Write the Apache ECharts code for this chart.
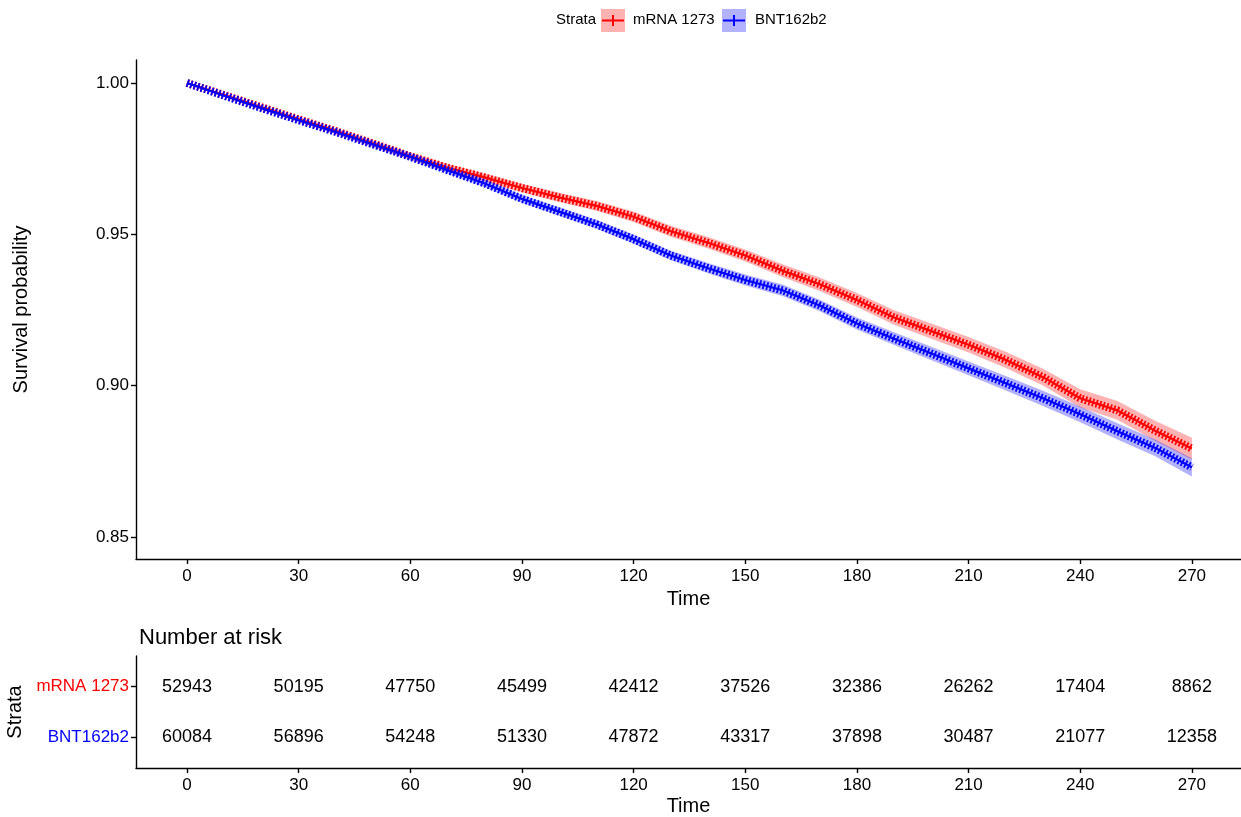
<!DOCTYPE html>
<html>
<head>
<meta charset="utf-8">
<script src="https://cdn.jsdelivr.net/npm/echarts@6/dist/echarts.min.js"></script>
<style>
html,body{margin:0;padding:0;background:#fff;}
#chart{width:1241px;height:817px;}
</style>
</head>
<body>
<div id="chart"></div>
<script>
// ---- data ----
const strata = ['mRNA 1273', 'BNT162b2'];
const times = [0,10,20,30,40,50,60,70,80,90,100,110,120,130,140,150,160,170,180,190,200,210,220,230,240,250,260,270];
const survMRNA = [1.0000,0.9960,0.9920,0.9880,0.9841,0.9800,0.9758,0.9720,0.9688,0.9653,0.9622,0.9594,0.9558,0.9510,0.9472,0.9430,0.9380,0.9335,0.9283,0.9225,0.9180,0.9135,0.9085,0.9028,0.8958,0.8918,0.8852,0.8792];
const survBNT  = [1.0000,0.9958,0.9917,0.9877,0.9838,0.9797,0.9756,0.9712,0.9668,0.9617,0.9575,0.9533,0.9484,0.9430,0.9388,0.9349,0.9315,0.9265,0.9205,0.9155,0.9106,0.9057,0.9008,0.8958,0.8905,0.8849,0.8795,0.8730];
const ciHalfMRNA = [0,0.0005,0.0007,0.0008,0.0009,0.0010,0.0011,0.0012,0.0013,0.0014,0.0015,0.0016,0.0017,0.0018,0.0019,0.0020,0.0021,0.0022,0.0023,0.0024,0.0025,0.0026,0.0027,0.0028,0.0030,0.0031,0.0033,0.0036];
const ciHalfBNT  = [0,0.0004,0.0006,0.0007,0.0008,0.0009,0.0010,0.0011,0.0012,0.0013,0.0014,0.0015,0.0015,0.0016,0.0017,0.0018,0.0019,0.0019,0.0020,0.0021,0.0022,0.0023,0.0024,0.0025,0.0026,0.0027,0.0028,0.0030];
const riskTimes = [0,30,60,90,120,150,180,210,240,270];
const riskMRNA = [52943,50195,47750,45499,42412,37526,32386,26262,17404,8862];
const riskBNT  = [60084,56896,54248,51330,47872,43317,37898,30487,21077,12358];
const xTicks = [0,30,60,90,120,150,180,210,240,270];
const yTicks = [0.85,0.90,0.95,1.00];

const RED = '#FF0000', BLUE = '#0000FF';
const FONT = 'Liberation Sans, Arial, sans-serif';

function bandSeries(surv, half, fill) {
  return {
    type: 'custom',
    xAxisIndex: 0, yAxisIndex: 0,
    silent: true,
    z: 1,
    data: times.map((t, i) => [t, surv[i] - half[i], surv[i] + half[i]]),
    renderItem: function (params, api) {
      if (params.dataIndex !== 0) return null;
      const pts = [];
      for (let i = 0; i < times.length; i++) pts.push(api.coord([times[i], surv[i] + half[i]]));
      for (let i = times.length - 1; i >= 0; i--) pts.push(api.coord([times[i], surv[i] - half[i]]));
      return { type: 'polygon', shape: { points: pts }, style: { fill: fill, stroke: null } };
    }
  };
}
function crossBand(surv, color, z) {
  return {
    type: 'line', xAxisIndex: 0, yAxisIndex: 0, silent: true, z: z,
    data: times.map((t, i) => [t, surv[i]]),
    showSymbol: false, symbol: 'none',
    lineStyle: { color: color, width: 8, type: [1.8, 1.9], cap: 'butt' }
  };
}
function solidLine(surv, color, z) {
  return {
    type: 'line', xAxisIndex: 0, yAxisIndex: 0, silent: true, z: z,
    data: times.map((t, i) => [t, surv[i]]),
    showSymbol: false, symbol: 'none',
    lineStyle: { color: color, width: 2.2 }
  };
}
function riskSeries(counts, row) {
  return {
    type: 'custom', xAxisIndex: 1, yAxisIndex: 1, silent: true,
    data: riskTimes.map((t, i) => [t, row, counts[i]]),
    renderItem: function (params, api) {
      const p = api.coord([api.value(0), api.value(1)]);
      return {
        type: 'text', x: p[0], y: p[1],
        style: { text: String(api.value(2)), fill: '#000', fontSize: 18, fontFamily: FONT,
                 align: 'center', verticalAlign: 'middle' }
      };
    }
  };
}

const axisLineStyle = { show: true, onZero: false, lineStyle: { color: '#000', width: 1.4 } };
const tickStyle = { show: true, length: 5, lineStyle: { color: '#000', width: 1.4 } };

const chart = echarts.init(document.getElementById('chart'), null, { renderer: 'canvas' });
chart.setOption({
  animation: false,
  backgroundColor: '#fff',
  textStyle: { fontFamily: FONT },
  title: {
    text: 'Number at risk', left: 134, top: 622,
    textStyle: { fontSize: 22, fontWeight: 'normal', color: '#000', fontFamily: FONT }
  },
  grid: [
    { left: 136, top: 60, right: 0, bottom: 258, containLabel: false, outerBoundsMode: 'none' },
    { left: 136, top: 656, right: 0, bottom: 49, containLabel: false, outerBoundsMode: 'none' }
  ],
  xAxis: [
    {
      type: 'value', gridIndex: 0, min: -13.7, max: 283.2,
      axisLine: axisLineStyle, splitLine: { show: false },
      axisTick: Object.assign({}, tickStyle, { customValues: xTicks }),
      axisLabel: { customValues: xTicks, color: '#000', fontSize: 17, margin: 9, fontFamily: FONT },
      name: 'Time', nameLocation: 'middle', nameGap: 30,
      nameTextStyle: { fontSize: 20, color: '#000', fontFamily: FONT }
    },
    {
      type: 'value', gridIndex: 1, min: -13.7, max: 283.2,
      axisLine: axisLineStyle, splitLine: { show: false },
      axisTick: Object.assign({}, tickStyle, { customValues: xTicks }),
      axisLabel: { customValues: xTicks, color: '#000', fontSize: 17, margin: 9, fontFamily: FONT },
      name: 'Time', nameLocation: 'middle', nameGap: 28,
      nameTextStyle: { fontSize: 20, color: '#000', fontFamily: FONT }
    }
  ],
  yAxis: [
    {
      type: 'value', gridIndex: 0, min: 0.8427, max: 1.0076,
      axisLine: axisLineStyle, splitLine: { show: false },
      axisTick: Object.assign({}, tickStyle, { customValues: yTicks }),
      axisLabel: { customValues: yTicks, formatter: v => Number(v).toFixed(2),
                   color: '#000', fontSize: 17, margin: 7, fontFamily: FONT },
      name: 'Survival probability', nameLocation: 'middle', nameGap: 105, nameRotate: 90,
      nameTextStyle: { fontSize: 20, color: '#000', fontFamily: FONT }
    },
    {
      type: 'value', gridIndex: 1, min: 0.4, max: 2.6, inverse: true,
      axisLine: axisLineStyle, splitLine: { show: false },
      axisTick: Object.assign({}, tickStyle, { customValues: [1, 2] }),
      axisLabel: {
        customValues: [1, 2], margin: 7,
        formatter: v => (Math.round(v) === 1 ? '{r|' + strata[0] + '}' : '{b|' + strata[1] + '}'),
        rich: {
          r: { color: RED, fontSize: 17, fontFamily: FONT },
          b: { color: BLUE, fontSize: 17, fontFamily: FONT }
        }
      },
      name: 'Strata', nameLocation: 'middle', nameGap: 105, nameRotate: 90,
      nameTextStyle: { fontSize: 20, color: '#000', fontFamily: FONT }
    }
  ],
  graphic: [
    { type: 'text', left: 556, top: 12, style: { text: 'Strata', fontSize: 15, fill: '#000', fontFamily: FONT } },
    { type: 'rect', shape: { x: 601, y: 9, width: 24, height: 23 }, style: { fill: 'rgba(255,0,0,0.3)' } },
    { type: 'line', shape: { x1: 602, y1: 20.5, x2: 624, y2: 20.5 }, style: { stroke: RED, lineWidth: 2 } },
    { type: 'line', shape: { x1: 613, y1: 15, x2: 613, y2: 26 }, style: { stroke: RED, lineWidth: 2 } },
    { type: 'text', left: 633, top: 12, style: { text: strata[0], fontSize: 15, fill: '#000', fontFamily: FONT } },
    { type: 'rect', shape: { x: 722, y: 9, width: 24, height: 23 }, style: { fill: 'rgba(0,0,255,0.3)' } },
    { type: 'line', shape: { x1: 723, y1: 20.5, x2: 745, y2: 20.5 }, style: { stroke: BLUE, lineWidth: 2 } },
    { type: 'line', shape: { x1: 734, y1: 15, x2: 734, y2: 26 }, style: { stroke: BLUE, lineWidth: 2 } },
    { type: 'text', left: 755, top: 12, style: { text: strata[1], fontSize: 15, fill: '#000', fontFamily: FONT } }
  ],
  series: [
    bandSeries(survMRNA, ciHalfMRNA, 'rgba(255,0,0,0.3)'),
    bandSeries(survBNT, ciHalfBNT, 'rgba(0,0,255,0.3)'),
    crossBand(survMRNA, RED, 3),
    solidLine(survMRNA, RED, 4),
    crossBand(survBNT, BLUE, 5),
    solidLine(survBNT, BLUE, 6),
    riskSeries(riskMRNA, 1),
    riskSeries(riskBNT, 2)
  ]
});
</script>
</body>
</html>
